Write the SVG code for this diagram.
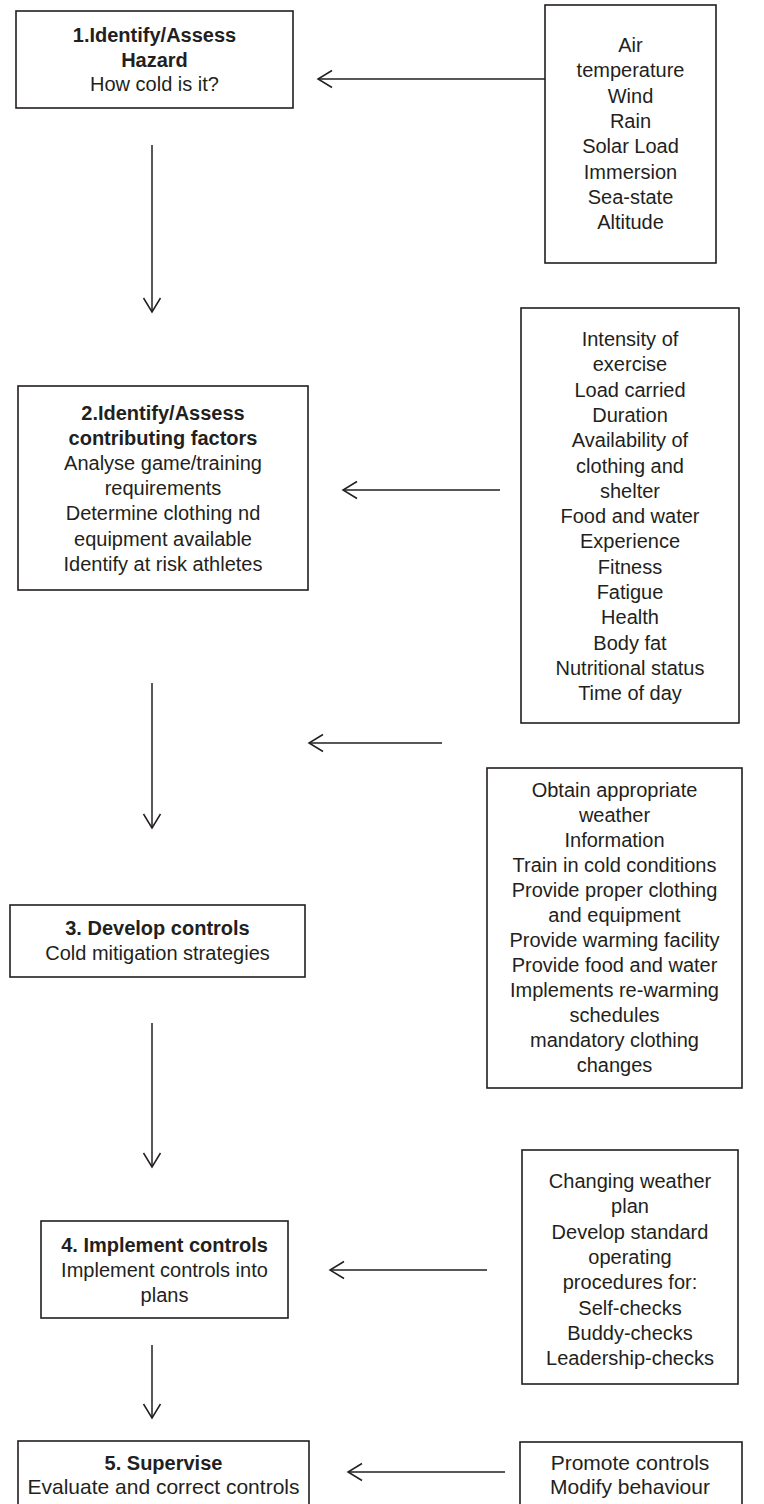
<svg xmlns="http://www.w3.org/2000/svg" width="764" height="1504" viewBox="0 0 764 1504">
<defs>
<style>
.box{fill:#ffffff;stroke:#231f20;stroke-width:1.6}
.t{font-family:"Liberation Sans",Arial,sans-serif;font-size:20px;fill:#231f20;text-anchor:middle}
.b{font-weight:bold}
.l{font-size:21px}
.c{stroke:#231f20;stroke-width:1.5;fill:none;marker-end:url(#ah)}
</style>
<marker id="ah" markerWidth="20" markerHeight="20" viewBox="-16 -10 20 20" refX="0" refY="0" orient="auto" markerUnits="userSpaceOnUse" overflow="visible">
<path d="M-14,-8.5 L0,0 L-14,8.5" fill="none" stroke="#231f20" stroke-width="1.5"/>
</marker>
</defs>
<rect width="764" height="1504" fill="#ffffff"/>

<g id="connectors">
<line class="c" x1="549" y1="79" x2="318" y2="79"/>
<line class="c" x1="152" y1="145" x2="152" y2="312"/>
<line class="c" x1="500" y1="490" x2="343" y2="490"/>
<line class="c" x1="152" y1="683" x2="152" y2="828"/>
<line class="c" x1="442" y1="743" x2="309" y2="743"/>
<line class="c" x1="152" y1="1023" x2="152" y2="1167"/>
<line class="c" x1="487" y1="1270" x2="330" y2="1270"/>
<line class="c" x1="152" y1="1345" x2="152" y2="1418"/>
<line class="c" x1="505" y1="1472" x2="348" y2="1472"/>
</g>

<g id="step1">
<rect class="box" x="16" y="11" width="277" height="97"/>
<text class="t b" x="154.5" y="42">1.Identify/Assess</text>
<text class="t b" x="154.5" y="66.5">Hazard</text>
<text class="t" x="154.5" y="91">How cold is it?</text>
</g>

<g id="hazard-factors">
<rect class="box" x="545" y="5" width="171" height="258"/>
<text class="t" x="630.5" y="52">Air</text>
<text class="t" x="630.5" y="77.3">temperature</text>
<text class="t" x="630.5" y="102.6">Wind</text>
<text class="t" x="630.5" y="128">Rain</text>
<text class="t" x="630.5" y="153.2">Solar Load</text>
<text class="t" x="630.5" y="178.5">Immersion</text>
<text class="t" x="630.5" y="203.8">Sea-state</text>
<text class="t" x="630.5" y="229.1">Altitude</text>
</g>

<g id="step2">
<rect class="box" x="18" y="386" width="290" height="204"/>
<text class="t b" x="163" y="419.5">2.Identify/Assess</text>
<text class="t b" x="163" y="444.7">contributing factors</text>
<text class="t" x="163" y="469.9">Analyse game/training</text>
<text class="t" x="163" y="495.1">requirements</text>
<text class="t" x="163" y="520.3">Determine clothing nd</text>
<text class="t" x="163" y="545.5">equipment available</text>
<text class="t" x="163" y="570.7">Identify at risk athletes</text>
</g>

<g id="contributing-factors">
<rect class="box" x="521" y="308" width="218" height="415"/>
<text class="t" x="630" y="346">Intensity of</text>
<text class="t" x="630" y="371.3">exercise</text>
<text class="t" x="630" y="396.6">Load carried</text>
<text class="t" x="630" y="421.9">Duration</text>
<text class="t" x="630" y="447.2">Availability of</text>
<text class="t" x="630" y="472.5">clothing and</text>
<text class="t" x="630" y="497.8">shelter</text>
<text class="t" x="630" y="523.1">Food and water</text>
<text class="t" x="630" y="548.4">Experience</text>
<text class="t" x="630" y="573.7">Fitness</text>
<text class="t" x="630" y="599">Fatigue</text>
<text class="t" x="630" y="624.3">Health</text>
<text class="t" x="630" y="649.6">Body fat</text>
<text class="t" x="630" y="674.9">Nutritional status</text>
<text class="t" x="630" y="700.2">Time of day</text>
</g>

<g id="step3">
<rect class="box" x="10" y="905" width="295" height="72"/>
<text class="t b" x="157.5" y="935">3. Develop controls</text>
<text class="t" x="157.5" y="960">Cold mitigation strategies</text>
</g>

<g id="mitigation-strategies">
<rect class="box" x="487" y="768" width="255" height="320"/>
<text class="t" x="614.5" y="797">Obtain appropriate</text>
<text class="t" x="614.5" y="822">weather</text>
<text class="t" x="614.5" y="847">Information</text>
<text class="t" x="614.5" y="872">Train in cold conditions</text>
<text class="t" x="614.5" y="897">Provide proper clothing</text>
<text class="t" x="614.5" y="922">and equipment</text>
<text class="t" x="614.5" y="947">Provide warming facility</text>
<text class="t" x="614.5" y="972">Provide food and water</text>
<text class="t" x="614.5" y="997">Implements re-warming</text>
<text class="t" x="614.5" y="1022">schedules</text>
<text class="t" x="614.5" y="1047">mandatory clothing</text>
<text class="t" x="614.5" y="1072">changes</text>
</g>

<g id="step4">
<rect class="box" x="41" y="1221" width="247" height="97"/>
<text class="t b" x="164.5" y="1252">4. Implement controls</text>
<text class="t" x="164.5" y="1277">Implement controls into</text>
<text class="t" x="164.5" y="1302">plans</text>
</g>

<g id="implementation-plans">
<rect class="box" x="522" y="1150" width="216" height="234"/>
<text class="t" x="630" y="1188">Changing weather</text>
<text class="t" x="630" y="1213.3">plan</text>
<text class="t" x="630" y="1238.6">Develop standard</text>
<text class="t" x="630" y="1263.9">operating</text>
<text class="t" x="630" y="1289.2">procedures for:</text>
<text class="t" x="630" y="1314.5">Self-checks</text>
<text class="t" x="630" y="1339.8">Buddy-checks</text>
<text class="t" x="630" y="1365.1">Leadership-checks</text>
</g>

<g id="step5">
<rect class="box" x="18" y="1441" width="291" height="80"/>
<text class="t b" x="163.5" y="1470">5. Supervise</text>
<text class="t l" x="163.5" y="1494">Evaluate and correct controls</text>
</g>

<g id="supervision-actions">
<rect class="box" x="520" y="1442" width="222" height="80"/>
<text class="t l" x="630" y="1470">Promote controls</text>
<text class="t l" x="630" y="1494">Modify behaviour</text>
</g>
</svg>
